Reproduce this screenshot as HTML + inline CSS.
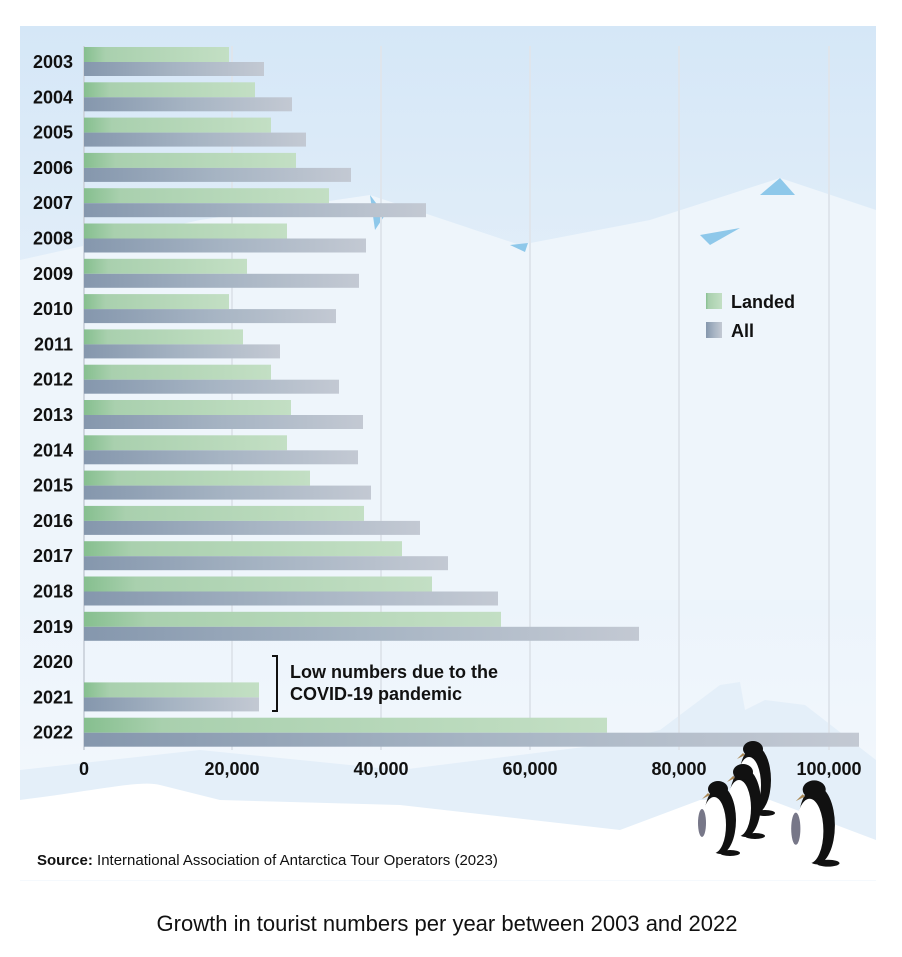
<!DOCTYPE html>
<html><head><meta charset="utf-8"><style>
body{margin:0;width:902px;height:952px;background:#fff;font-family:"Liberation Sans",Arial,sans-serif;overflow:hidden}
</style></head><body>
<svg width="902" height="952" xmlns="http://www.w3.org/2000/svg" font-family="Liberation Sans, Arial, sans-serif">
<defs>
<linearGradient id="bg" x1="0" y1="0" x2="0" y2="1">
<stop offset="0" stop-color="#d5e7f7"/><stop offset="0.3" stop-color="#e2eef9"/><stop offset="1" stop-color="#f5f9fd"/></linearGradient>
<linearGradient id="gl" x1="0" x2="1"><stop offset="0" stop-color="#86bf8f"/><stop offset="0.15" stop-color="#a9d0ae"/><stop offset="1" stop-color="#c3dfc4"/></linearGradient>
<linearGradient id="ga" x1="0" x2="1"><stop offset="0" stop-color="#8597ad"/><stop offset="0.5" stop-color="#a6b4c3"/><stop offset="1" stop-color="#c3c9d3"/></linearGradient>
</defs>
<rect x="20" y="26" width="856" height="855" fill="url(#bg)"/>
<polygon points="20,260 200,220 370,195 520,245 650,220 780,178 876,210 876,600 20,600" fill="#eef5fb"/>
<polygon points="370,195 385,215 375,230" fill="#8ec8ea"/>
<polygon points="780,178 795,195 760,195" fill="#8ec8ea"/>
<polygon points="700,235 740,228 710,245" fill="#8ec8ea"/>
<polygon points="510,245 528,243 525,252" fill="#8ec8ea"/>
<polygon points="660,730 720,685 740,682 745,710 765,700 805,705 876,760 876,880 20,880 20,770 200,750 400,770 600,745" fill="#e4eff9"/>
<path d="M20,800 C100,790 140,780 160,785 L220,800 L400,805 L620,830 L700,800 L770,800 L876,840 L876,880 L20,880 Z" fill="#fff"/>
<g stroke="#dfe5ec" stroke-width="2">
<line x1="232" y1="46" x2="232" y2="750"/><line x1="381" y1="46" x2="381" y2="750"/><line x1="530" y1="46" x2="530" y2="750"/><line x1="679" y1="46" x2="679" y2="750"/><line x1="829" y1="46" x2="829" y2="750"/>
</g>
<line x1="84" y1="46" x2="84" y2="750" stroke="#cfd6df" stroke-width="2"/>
<g id="bars"></g>
<g font-size="18" font-weight="bold" fill="#111" text-anchor="end" id="yl"></g>
<g font-size="18" font-weight="bold" fill="#111" text-anchor="middle">
<text x="84" y="775">0</text><text x="232" y="775">20,000</text><text x="381" y="775">40,000</text><text x="530" y="775">60,000</text><text x="679" y="775">80,000</text><text x="829" y="775">100,000</text></g>
<rect x="706" y="293" width="16" height="16" fill="url(#gl)"/><text x="731" y="308" font-size="18" font-weight="bold" fill="#111">Landed</text>
<rect x="706" y="322" width="16" height="16" fill="url(#ga)"/><text x="731" y="337" font-size="18" font-weight="bold" fill="#111">All</text>
<path d="M272,656 h5 v55 h-5" fill="none" stroke="#111" stroke-width="2"/>
<text x="290" y="678" font-size="18" font-weight="bold" fill="#111">Low numbers due to the</text>
<text x="290" y="700" font-size="18" font-weight="bold" fill="#111">COVID-19 pandemic</text>
<text x="37" y="865" font-size="15" fill="#111"><tspan font-weight="bold">Source:</tspan> International Association of Antarctica Tour Operators (2023)</text>
<text x="447" y="931" font-size="22" fill="#111" text-anchor="middle">Growth in tourist numbers per year between 2003 and 2022</text>
<g id="peng"></g>
</svg>
<script>
var d=[[2003,229,264],[2004,255,292],[2005,271,306],[2006,296,351],[2007,329,426],[2008,287,366],[2009,247,359],[2010,229,336],[2011,243,280],[2012,271,339],[2013,291,363],[2014,287,358],[2015,310,371],[2016,364,420],[2017,402,448],[2018,432,498],[2019,501,639],[2020,0,0],[2021,259,259],[2022,607,859]];
var b='',y='';
d.forEach(function(r,i){var t=47+35.3*i;
if(r[1]){b+='<rect x="84" y="'+t+'" width="'+(r[1]-84)+'" height="15" fill="url(#gl)"/><rect x="84" y="'+(t+15)+'" width="'+(r[2]-84)+'" height="14" fill="url(#ga)"/>';}
y+='<text x="73" y="'+(t+21)+'">'+r[0]+'</text>';});
document.getElementById('bars').innerHTML=b;document.getElementById('yl').innerHTML=y;
var p='';[[745,745,1],[710,785,1],[735,768,1],[805,785,1.15]].sort(function(a,b){return a[1]-b[1]}).forEach(function(q){var x=q[0],t=q[1],s=q[2];
p+='<g transform="translate('+x+','+t+') scale('+s+')"><ellipse cx="10" cy="35" rx="16" ry="34" fill="#111"/><ellipse cx="4" cy="40" rx="12" ry="28" fill="#fff"/><ellipse cx="-8" cy="38" rx="4" ry="14" fill="#778"/><ellipse cx="8" cy="4" rx="10" ry="8" fill="#111"/><polygon points="-2,8 -8,14 0,10" fill="#a85"/><ellipse cx="20" cy="68" rx="10" ry="3" fill="#111"/></g>';});
document.getElementById('peng').innerHTML=p;
</script>
</body></html>
